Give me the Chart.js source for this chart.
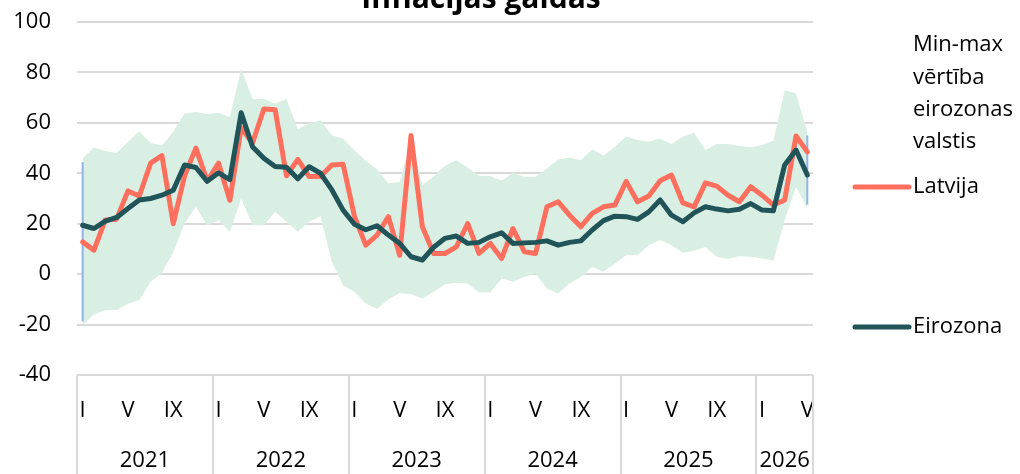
<!DOCTYPE html>
<html>
<head>
<meta charset="utf-8">
<script src="https://cdn.jsdelivr.net/npm/chart.js@4"></script>
<style>
html,body{margin:0;padding:0;background:#fff;}
#wrap{width:1020px;height:474px;position:relative;}
</style>
</head>
<body>
<div id="wrap"><canvas id="c" width="1020" height="474"></canvas></div>
<script>
// ---- data ----
const titleText = 'Inflācijas gaidas';
const years = ['2021','2022','2023','2024','2025','2026'];
const monthsInYear = [12,12,12,12,12,5];
const monthNames = ['I','II','III','IV','V','VI','VII','VIII','IX','X','XI','XII'];
const shownMonths = ['I','V','IX'];
const yTicks = [-40,-20,0,20,40,60,80,100];

const bandLabel = ['Min-max','vērtība','eirozonas','valstis'];
const latviaLabel = 'Latvija';
const euroLabel = 'Eirozona';

const latvia = [12.8,9.5,21.5,21.8,33,31,44,47,20,39,50,37,
  44,29.3,58,52,65.5,65.2,39,45.5,38.7,38.7,43.3,43.6,
  23,11.5,15.5,22.8,7.5,55,18.8,8.2,8.2,10.8,20.1,8.2,
  12.2,6.2,18.1,8.9,8.2,26.7,28.7,23.4,18.8,24.1,26.7,27.4,
  36.8,28.7,31,37,39.3,28.3,26.7,36.2,34.9,31.3,28.7,34.7,
  31.3,27.4,29.4,54.8,48.5];
const eurozone = [19.4,18.1,21,22.5,26,29.4,30,31.3,33.3,43.3,42.3,36.8,
  40.2,37.5,64,50.5,46,42.7,42.4,37.8,42.6,40,33.5,25.4,
  19.8,17.6,19.2,15.5,12.2,6.9,5.6,10.7,14.2,15.1,12.2,12.6,
  14.8,16.4,12.2,12.4,12.6,13.2,11.5,12.6,13.2,17.5,21.2,23,
  22.8,21.7,24.7,29.4,23.4,20.8,24.3,26.7,25.8,25.1,25.7,28,
  25.4,25.1,43.3,49.2,39.3];
const bandMax = [45.9,50.2,48.8,48,52.4,56.7,52,51,56.5,63.7,64.3,63.5,
  64,62.3,81.5,69.5,69.5,67.7,69.5,57.5,59.7,61,55.1,53.7,
  49.1,45,41.5,36,36.5,52.8,35.3,38.8,43,45.2,42.3,39,
  38.9,37,40.2,38.6,38.6,41.9,45.5,46.3,45.2,49.5,47,50.5,
  54.6,53.2,52.5,53.8,51.6,54.5,56.1,49.2,51.6,51.6,50.8,50.3,
  51.2,52.9,72.8,71.7,56.5];
const bandMin = [-20.2,-16,-14.3,-14.2,-11.7,-10.4,-3,0.6,8.6,20.1,26.7,19.4,
  21.4,16.8,30,19.4,19.4,24.7,20.8,16.8,20.8,23,5,-4.4,
  -7,-11.6,-13.8,-10,-7.5,-8,-9.7,-7,-4,-3.4,-3.7,-7.3,
  -7.3,-1.7,-3,-1.1,0.3,-5.7,-7.7,-3.7,-1.1,2.9,0.9,4.2,
  7.5,7.5,11.5,13.5,11.5,8.5,9.3,10.8,6.9,6,7.1,6.9,
  6.2,5.3,21.4,34.7,26.1];

// categories built from years and months
const categories = [];
years.forEach((y, yi) => {
  for (let m = 0; m < monthsInYear[yi]; m++) categories.push(monthNames[m]);
});

// ---- styles ----
const FONT = '"Open Sans"';
const RED = '#ff6f5e';
const DARK = '#215459';
const BAND = 'rgb(217,239,227)';
const GRID = '#d9d9d9';
const BLUE = '#8fb4e3';

const titlePlugin = {
  id: 'titleCut',
  afterDraw(chart) {
    const ctx = chart.ctx;
    ctx.save();
    ctx.font = 'bold 30px ' + FONT;
    ctx.fillStyle = '#000';
    ctx.textAlign = 'center';
    ctx.textBaseline = 'alphabetic';
    ctx.fillText(titleText, 481, 8);
    ctx.restore();
  }
};

const edgePlugin = {
  id: 'edgeLines',
  afterDatasetDraw(chart, args) {
    if (args.index !== 1) return;
    const xs = chart.scales.x, ys = chart.scales.y, ctx = chart.ctx;
    ctx.save();
    ctx.strokeStyle = BLUE;
    ctx.lineWidth = 2;
    [0, categories.length - 1].forEach(i => {
      const x = xs.getPixelForValue(i);
      ctx.beginPath();
      ctx.moveTo(x, ys.getPixelForValue(bandMax[i] - 1.5));
      ctx.lineTo(x, ys.getPixelForValue(bandMin[i] + 1.5));
      ctx.stroke();
    });
    ctx.restore();
  }
};

const axisPlugin = {
  id: 'yearAxis',
  afterDraw(chart) {
    const xs = chart.scales.x, ctx = chart.ctx, area = chart.chartArea;
    const bottom = chart.height;
    ctx.save();
    ctx.strokeStyle = GRID;
    ctx.lineWidth = 2;
    const bounds = [area.left];
    let idx = 0;
    years.forEach((y, yi) => {
      idx += monthsInYear[yi];
      if (idx < categories.length) bounds.push((xs.getPixelForValue(idx - 1) + xs.getPixelForValue(idx)) / 2);
    });
    bounds.push(area.right);
    bounds.forEach(b => {
      ctx.beginPath();
      ctx.moveTo(Math.round(b), area.bottom);
      ctx.lineTo(Math.round(b), bottom);
      ctx.stroke();
    });
    ctx.fillStyle = '#000';
    ctx.font = '22px ' + FONT;
    ctx.textAlign = 'center';
    ctx.textBaseline = 'middle';
    years.forEach((y, yi) => {
      ctx.fillText(y, (bounds[yi] + bounds[yi + 1]) / 2, 461);
    });
    ctx.restore();
  }
};

const legendPlugin = {
  id: 'customLegend',
  afterDraw(chart) {
    const ctx = chart.ctx;
    const tx = chart.chartArea.right + 100;
    ctx.save();
    ctx.fillStyle = '#000';
    ctx.font = '22px ' + FONT;
    ctx.textAlign = 'left';
    ctx.textBaseline = 'middle';
    bandLabel.forEach((t, i) => ctx.fillText(t, tx, 45 + i * 32.3));
    const entries = [[latviaLabel, RED, 187], [euroLabel, DARK, 327]];
    entries.forEach(([t, c, y]) => {
      ctx.strokeStyle = c;
      ctx.lineWidth = 5;
      ctx.lineCap = 'round';
      ctx.beginPath();
      ctx.moveTo(tx - 58, y);
      ctx.lineTo(tx - 4, y);
      ctx.stroke();
      ctx.fillText(t, tx, y);
    });
    ctx.restore();
  }
};

new Chart(document.getElementById('c'), {
  type: 'line',
  data: {
    labels: categories,
    datasets: [
      { label: 'min', data: bandMin, borderWidth: 0, pointRadius: 0, fill: false, borderColor: 'rgba(0,0,0,0)', order: 4 },
      { label: bandLabel.join(' '), data: bandMax, borderWidth: 0, pointRadius: 0, fill: 0, backgroundColor: BAND, borderColor: 'rgba(0,0,0,0)', order: 3 },
      { label: latviaLabel, data: latvia, borderColor: RED, borderWidth: 5, pointRadius: 0, fill: false, tension: 0, borderJoinStyle: 'round', borderCapStyle: 'round', order: 2 },
      { label: euroLabel, data: eurozone, borderColor: DARK, borderWidth: 5, pointRadius: 0, fill: false, tension: 0, borderJoinStyle: 'round', borderCapStyle: 'round', order: 1 }
    ]
  },
  options: {
    responsive: false,
    animation: false,
    devicePixelRatio: 1,
    layout: { padding: { top: 22, right: 207, left: 0, bottom: 0 } },
    plugins: { legend: { display: false }, title: { display: false }, tooltip: { enabled: false } },
    scales: {
      x: {
        type: 'category',
        offset: true,
        grid: { display: false },
        border: { display: false },
        ticks: {
          autoSkip: false, maxRotation: 0, minRotation: 0, padding: 15,
          color: '#000', font: { family: FONT, size: 22 },
          callback: (v, i) => shownMonths.includes(categories[i]) ? categories[i] : ''
        },
        afterFit: s => { s.height = 99; }
      },
      y: {
        min: yTicks[0], max: yTicks[yTicks.length - 1],
        afterBuildTicks: s => { s.ticks = yTicks.map(v => ({ value: v })); },
        grid: { color: GRID, lineWidth: 2, drawTicks: true, tickLength: 26, tickColor: 'rgba(0,0,0,0)' },
        border: { display: false },
        ticks: { padding: 0, color: '#000', font: { family: FONT, size: 22 } },
        afterFit: s => { s.width = 77; }
      }
    }
  },
  plugins: [edgePlugin, axisPlugin, legendPlugin, titlePlugin]
});
</script>
</body>
</html>
